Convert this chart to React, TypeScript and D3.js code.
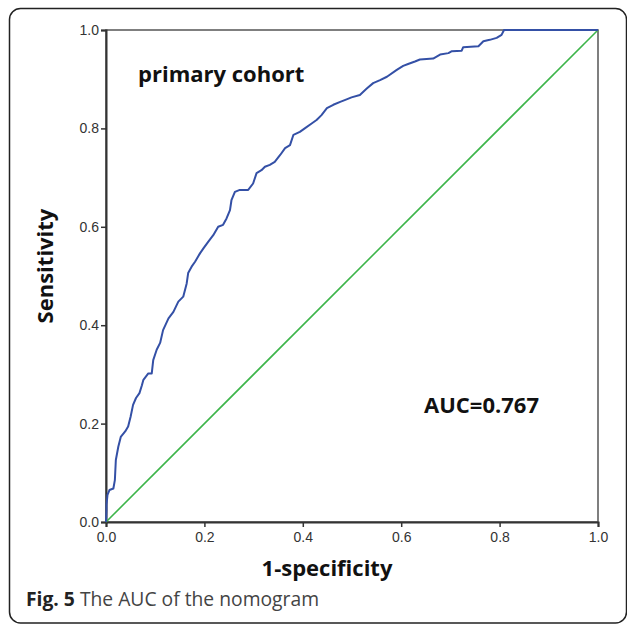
import React from 'react';
import * as d3 from 'd3';

// ROC curve (1-specificity, sensitivity)
const fpr = [0, 0.001, 0.001, 0.003, 0.007, 0.015, 0.018, 0.02, 0.025, 0.03, 0.039, 0.045, 0.05, 0.055, 0.061, 0.068, 0.073, 0.076, 0.086, 0.093, 0.096, 0.103, 0.11, 0.116, 0.127, 0.137, 0.147, 0.157, 0.164, 0.167, 0.174, 0.181, 0.191, 0.198, 0.208, 0.218, 0.228, 0.238, 0.245, 0.252, 0.255, 0.262, 0.272, 0.289, 0.299, 0.306, 0.316, 0.323, 0.333, 0.343, 0.354, 0.364, 0.374, 0.381, 0.394, 0.404, 0.418, 0.428, 0.438, 0.449, 0.462, 0.476, 0.489, 0.499, 0.516, 0.53, 0.543, 0.557, 0.571, 0.591, 0.604, 0.614, 0.628, 0.638, 0.665, 0.679, 0.696, 0.703, 0.723, 0.726, 0.757, 0.767, 0.78, 0.794, 0.804, 0.809, 1];
const tpr = [0, 0.024, 0.035, 0.055, 0.065, 0.068, 0.085, 0.126, 0.153, 0.173, 0.184, 0.194, 0.214, 0.238, 0.252, 0.262, 0.278, 0.289, 0.302, 0.302, 0.329, 0.35, 0.364, 0.39, 0.414, 0.427, 0.448, 0.458, 0.485, 0.506, 0.519, 0.529, 0.546, 0.556, 0.57, 0.583, 0.6, 0.604, 0.617, 0.634, 0.654, 0.671, 0.675, 0.675, 0.688, 0.709, 0.715, 0.722, 0.726, 0.732, 0.746, 0.76, 0.766, 0.787, 0.793, 0.8, 0.81, 0.817, 0.827, 0.841, 0.848, 0.854, 0.859, 0.863, 0.868, 0.881, 0.892, 0.898, 0.905, 0.919, 0.927, 0.931, 0.936, 0.94, 0.942, 0.95, 0.953, 0.957, 0.958, 0.965, 0.967, 0.977, 0.98, 0.984, 0.99, 1, 1];
const refLine = [0, 1];
const ticks = [0, 0.2, 0.4, 0.6, 0.8, 1.0];
const aucText = 'AUC=0.767';
const cohortText = 'primary cohort';

const App = () => {
    const svgRef = React.useRef(null);

    const W = 627;
    const H = 626;
    const plot = { left: 106, top: 30, right: 598, bottom: 522 };

    React.useEffect(() => {
        const svg = d3.select(svgRef.current);
        svg.selectAll('*').remove();

        const x = d3.scaleLinear().domain([0, 1]).range([plot.left, plot.right]);
        const y = d3.scaleLinear().domain([0, 1]).range([plot.bottom, plot.top]);

        // outer frame
        svg.append('rect')
            .attr('x', 9.5).attr('y', 8.5)
            .attr('width', 617).attr('height', 614.5)
            .attr('rx', 11).attr('ry', 11)
            .attr('fill', 'white')
            .attr('stroke', '#222')
            .attr('stroke-width', 1.5);

        // plot box
        svg.append('rect')
            .attr('x', plot.left).attr('y', plot.top)
            .attr('width', plot.right - plot.left)
            .attr('height', plot.bottom - plot.top)
            .attr('fill', 'none')
            .attr('stroke', '#555')
            .attr('stroke-width', 1.5);

        const fmt = d3.format('.1f');

        const xAxis = svg.append('g')
            .attr('transform', `translate(0,${plot.bottom})`)
            .call(d3.axisBottom(x).tickValues(ticks).tickFormat(fmt).tickSize(5).tickPadding(5));
        const yAxis = svg.append('g')
            .attr('transform', `translate(${plot.left},0)`)
            .call(d3.axisLeft(y).tickValues(ticks).tickFormat(fmt).tickSize(5).tickPadding(2));

        [xAxis, yAxis].forEach(g => {
            g.select('.domain').attr('stroke', '#333').attr('stroke-width', 2);
            g.selectAll('.tick line').attr('stroke', '#333').attr('stroke-width', 1.5);
            g.selectAll('.tick text')
                .attr('fill', '#333')
                .style('font-family', '"Liberation Sans", Arial, sans-serif')
                .style('font-size', '14px');
        });

        // reference diagonal
        svg.append('path')
            .datum(refLine)
            .attr('d', d3.line().x(d => x(d)).y(d => y(d)))
            .attr('fill', 'none')
            .attr('stroke', '#3db54a')
            .attr('stroke-width', 1.6);

        // ROC curve
        const pts = fpr.map((f, i) => [f, tpr[i]]);
        svg.append('path')
            .datum(pts)
            .attr('d', d3.line().x(d => x(d[0])).y(d => y(d[1])))
            .attr('fill', 'none')
            .attr('stroke', '#3450a6')
            .attr('stroke-width', 2)
            .attr('stroke-linejoin', 'round');

        const bold = (t) => t
            .style('font-family', '"Open Sans", sans-serif')
            .style('font-weight', 'bold')
            .style('font-size', '22px')
            .attr('fill', '#111');

        svg.append('text').attr('x', 138).attr('y', 82).text(cohortText).call(bold);
        svg.append('text').attr('x', 424).attr('y', 413).text(aucText).call(bold);
        svg.append('text').attr('x', (plot.left + plot.right) / 2 - 25).attr('y', 576)
            .attr('text-anchor', 'middle').text('1-specificity').call(bold);
        svg.append('text')
            .attr('transform', `translate(53,${(plot.top + plot.bottom) / 2 - 10}) rotate(-90)`)
            .attr('text-anchor', 'middle').text('Sensitivity').call(bold);

        // caption
        const cap = svg.append('text')
            .attr('x', 26).attr('y', 606)
            .style('font-family', '"Open Sans", sans-serif')
            .style('font-size', '19.3px')
            .attr('fill', '#444');
        cap.append('tspan').style('font-weight', 'bold').attr('fill', '#222').text('Fig. 5');
        cap.append('tspan').text(' The AUC of the nomogram');

    // eslint-disable-next-line react-hooks/exhaustive-deps
    }, []);

    return (
        <svg ref={svgRef} width={W} height={H}
            style={{ position: 'absolute', left: 0, top: 0, display: 'block' }} />
    );
};

export default App;
